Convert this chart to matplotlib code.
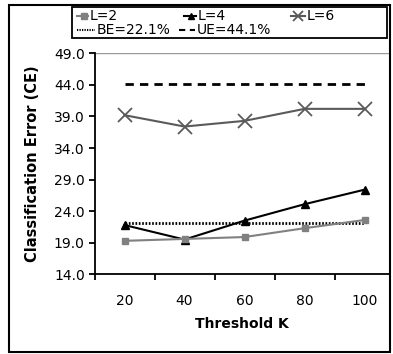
import matplotlib.pyplot as plt
from matplotlib.lines import Line2D
from matplotlib.patches import Rectangle

plt.rcParams['font.family'] = ['DejaVu Sans']

# data
thresholds = ["20", "40", "60", "80", "100"]
ce_l2 = [19.3, 19.6, 19.9, 21.3, 22.6]
ce_l4 = [21.8, 19.5, 22.5, 25.1, 27.4]
ce_l6 = [39.2, 37.4, 38.3, 40.2, 40.2]
be_value = 22.1
ue_value = 44.1
y_ticks = [14.0, 19.0, 24.0, 29.0, 34.0, 39.0, 44.0, 49.0]

W, H = 393, 354
FS = 10
fig = plt.figure(figsize=(W / 100, H / 100), dpi=100)


def fx(px):
    return px / W


def fy(py):
    return 1 - py / H


# axes box in pixels (left, bottom, right, top)
left, right, bottom, top = 94.5, 390, 274.3, 53.3
ax = fig.add_axes([fx(left), fy(bottom), (right - left) / W, (bottom - top) / H])

x = list(range(len(thresholds)))

ue_style = dict(color='black', lw=2, ls=(0, (3, 2.2)))
be_style = dict(color='black', lw=2, ls=(0, (0.6, 0.6)))
l6_style = dict(color='#5a5a5a', lw=1.5, marker='x', mew=1.3)
l4_style = dict(color='black', lw=1.5, marker='^')
l2_style = dict(color='#808080', lw=1.5, marker='s')

ax.plot(x, [ue_value] * len(x), **ue_style)
ax.plot(x, [be_value] * len(x), **be_style)
ax.plot(x, ce_l6, ms=9.5, **l6_style)
ax.plot(x, ce_l4, ms=5.5, **l4_style)
ax.plot(x, ce_l2, ms=5, **l2_style)

ax.set_ylim(14, 49)
ax.set_yticks(y_ticks)
ax.set_yticklabels([f"{v:.1f}" for v in y_ticks], fontsize=FS)
ax.set_xlim(-0.5, -0.5 + (right - left) / 60)
ax.set_xticks(x)
ax.set_xticklabels(thresholds, fontsize=FS)
ax.tick_params(axis='x', length=0, pad=14)
ax.set_xticks([i - 0.5 for i in range(len(thresholds))], minor=True)
ax.tick_params(axis='x', which='minor', length=4, width=1.3, direction='out')
ax.tick_params(axis='y', length=4, width=1.3, direction='out', pad=3)

ax.axhline(49, color='#9a9a9a', lw=1)
for s in ['top', 'right']:
    ax.spines[s].set_visible(False)
for s in ['left', 'bottom']:
    ax.spines[s].set_linewidth(1.3)

ax.set_xlabel("Threshold K", fontsize=FS, fontweight='bold', labelpad=7)
ax.set_ylabel("Classification Error (CE)", fontsize=10.5, fontweight='bold', labelpad=10)

# legend drawn by hand to keep the Excel-like column layout
fig.add_artist(Rectangle((fx(71.5), fy(37.5)), (386.5 - 71.5) / W, 30.5 / H,
                         transform=fig.transFigure, fill=False,
                         edgecolor='black', lw=1.3))
entries = [
    (77, 88, 84, 16, l2_style, 4, "L=2"),
    (184, 196, 191, 16, l4_style, 4.5, "L=4"),
    (291, 305, 298, 16, l6_style, 7, "L=6"),
    (77, 95, None, 30, be_style, 0, "BE=22.1%"),
    (179, 195, None, 30, ue_style, 0, "UE=44.1%"),
]
for x0, x1, xm, yy, style, msz, label in entries:
    st = {k: v for k, v in style.items() if k not in ('marker', 'mew')}
    st['lw'] = min(st['lw'], 1.5)
    fig.add_artist(Line2D([fx(x0), fx(x1)], [fy(yy), fy(yy)],
                          transform=fig.transFigure, **st))
    if xm is not None:
        fig.add_artist(Line2D([fx(xm)], [fy(yy)], transform=fig.transFigure,
                              ls='none', marker=style['marker'], color=style['color'],
                              ms=msz, mew=style.get('mew', 1)))
    fig.text(fx(x1 + 1.5), fy(yy), label, fontsize=FS, va='center', ha='left')

# outer frame
fig.add_artist(Rectangle((fx(9), fy(352)), (390 - 9) / W, (352 - 5) / H,
                         transform=fig.transFigure, fill=False,
                         edgecolor='black', lw=1.5))

fig.savefig("out.png", dpi=100)
